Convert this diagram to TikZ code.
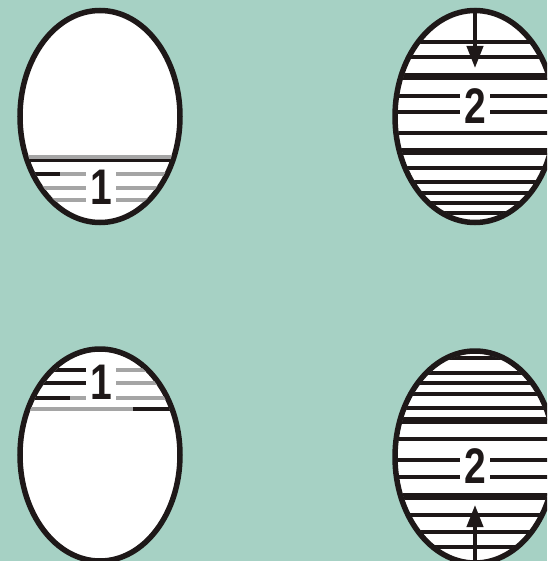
\documentclass[tikz,border=0pt]{standalone}
\usepackage{fontspec}
\usepackage{tikz}
\usetikzlibrary{arrows.meta,shapes.geometric}

\newfontfamily\digitfont[FakeStretch=0.78]{Liberation Sans}
\definecolor{bgteal}{RGB}{166,209,196}
\definecolor{inkline}{RGB}{30,24,24}
\definecolor{greyline}{RGB}{165,165,165}

\begin{document}
\begin{tikzpicture}[
    x=1pt, y=-1pt,
    egg/.style={
        ellipse,
        draw=inkline,
        fill=white,
        line width=5.5pt,
        minimum width=160pt,
        minimum height=212pt,
        inner sep=0pt
    },
    thinrule/.style={draw=inkline, line width=4pt},
    thickrule/.style={draw=inkline, line width=7pt},
    greyrule/.style={draw=greyline, line width=4pt},
    digit/.style={
        fill=white,
        inner xsep=4pt,
        inner ysep=2pt,
        text=inkline,
        font=\digitfont\bfseries\fontsize{50}{50}\selectfont
    },
    push/.style={draw=inkline, line width=4pt, -{Triangle[length=22pt,width=16pt]}}
]

% background and page size
\useasboundingbox (0,0) rectangle (547,561);
\clip (0,0) rectangle (547,561);
\fill[bgteal] (0,0) rectangle (547,561);

% the four eggs
\node[egg] (eggA) at (100,116.5) {};
\node[egg] (eggB) at (475,116.5) {};
\node[egg] (eggC) at (100,455) {};
\node[egg] (eggD) at (475,457) {};

% egg A: layer 1 at the bottom
\begin{scope}
    \clip (eggA.center) ellipse [x radius=77.5pt, y radius=103.5pt];
    \draw[greyrule] (10,157) -- (190,157);
    \draw[inkline, line width=3pt] (10,161) -- (190,161);
    \foreach \yy in {174,188,200}
        \draw[greyrule] (10,\yy) -- (190,\yy);
    \draw[thinrule] (10,174) -- (60,174);
\end{scope}
\node[digit] (oneA) at (101,187) {1};

% egg B: layer 2 with load from the top
\begin{scope}
    \clip (eggB.center) ellipse [x radius=77.5pt, y radius=103.5pt];
    \foreach \yy in {42,57,96,112,133,168,182,193,203,213}
        \draw[thinrule] (385,\yy) -- (565,\yy);
    \foreach \yy in {77,152}
        \draw[thickrule] (385,\yy) -- (565,\yy);
\end{scope}
\node[digit] (twoB) at (475,106) {2};
\coordinate (tipB) at (475,68);
\draw[push] (eggB.north) -- (tipB);

% egg C: layer 1 at the top
\begin{scope}
    \clip (eggC.center) ellipse [x radius=77.5pt, y radius=103.5pt];
    \foreach \yy in {370,383,398,409}
        \draw[greyrule] (10,\yy) -- (190,\yy);
    \draw[thinrule] (10,370) -- (92,370);
    \draw[thinrule] (10,383) -- (92,383);
    \draw[thinrule] (10,398) -- (70,398);
    \draw[thinrule] (133,409) -- (190,409);
\end{scope}
\node[digit] (oneC) at (101,382) {1};

% egg D: layer 2 with load from below
\begin{scope}
    \clip (eggD.center) ellipse [x radius=77.5pt, y radius=103.5pt];
    \foreach \yy in {358,373,383,394,408,439,460,477,515,532,547}
        \draw[thinrule] (385,\yy) -- (565,\yy);
    \foreach \yy in {420,496}
        \draw[thickrule] (385,\yy) -- (565,\yy);
\end{scope}
\node[digit] (twoD) at (475,466) {2};
\coordinate (tipD) at (475,505);
\draw[push] (eggD.south) -- (tipD);

\end{tikzpicture}
\end{document}
